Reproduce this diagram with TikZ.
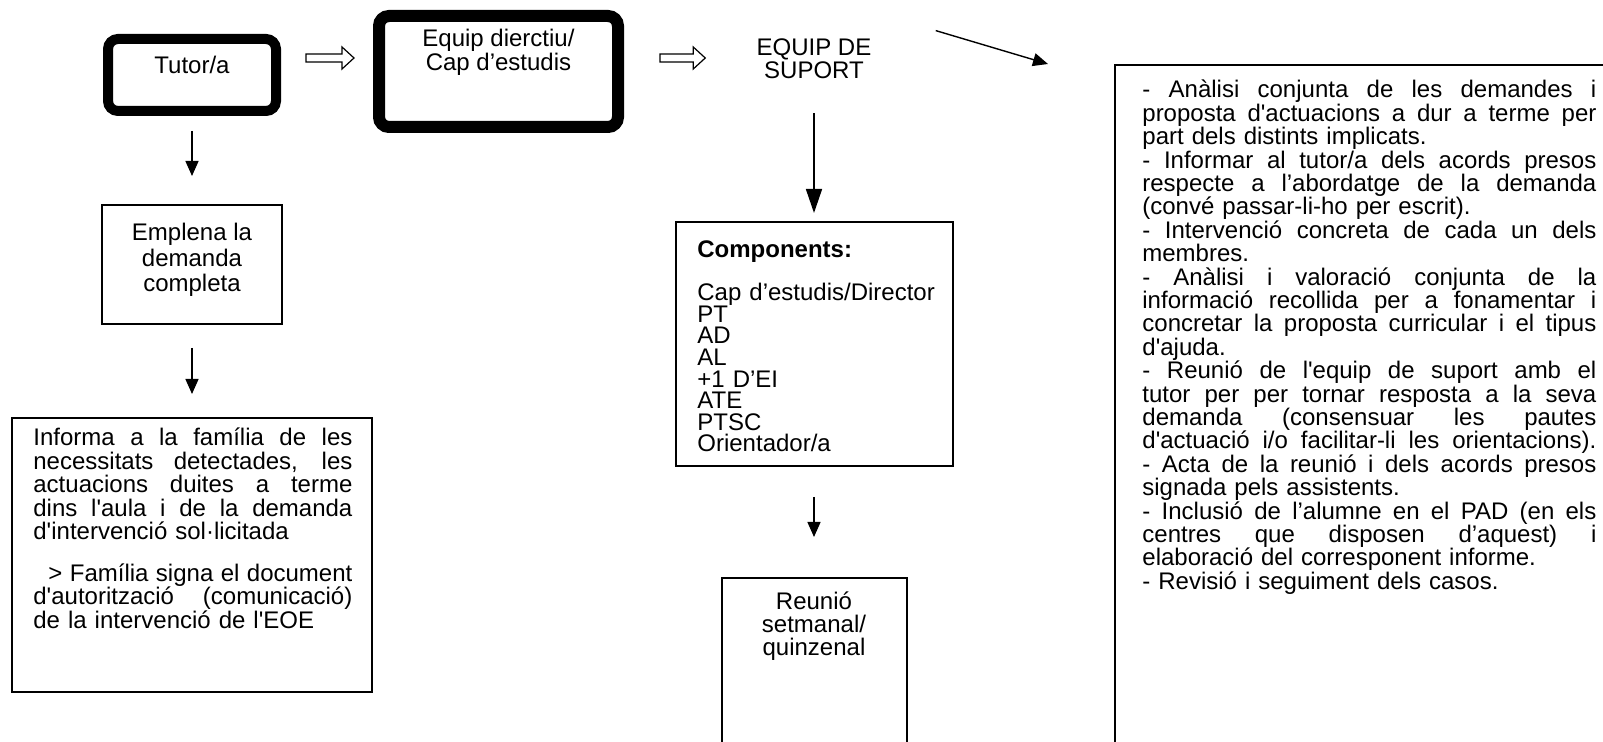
\documentclass[tikz,border=0pt]{standalone}
\usepackage{fontspec}
\setmainfont{Liberation Sans}[Ligatures=TeXOff]
\usepackage{tikz}
\usetikzlibrary{arrows.meta,calc}
\newcommand{\fullline}[2]{\makebox[#1][s]{\spaceskip=0.278em plus 1fil\relax #2}}

\begin{document}
\begin{tikzpicture}[x=0.5pt,y=-0.5pt,
  thickbox/.style={draw,rounded corners=5pt,inner sep=0pt},
  thinbox/.style={draw,line width=1pt,inner sep=0pt},
  txt/.style={inner sep=0pt,font=\fontsize{12pt}{12pt}\selectfont},
  flow/.style={line width=0.7pt,-{Triangle[length=7.5pt,width=6.5pt]}},
  bigflow/.style={line width=0.8pt,-{Triangle[length=12pt,width=8pt]}},
  hollowarrow/.style={draw,line width=0.6pt,
    to path={let \p1=(\tikztostart), \p2=(\tikztotarget) in
      (\x1,\y1+2pt) -- (\x2-6pt,\y1+2pt) -- (\x2-6pt,\y1+5.5pt) -- (\x2,\y1)
      -- (\x2-6pt,\y1-5.5pt) -- (\x2-6pt,\y1-2pt) -- (\x1,\y1-2pt) -- cycle}}]

 \clip (0,0) rectangle (1603,742);

 \node[thickbox,line width=5pt,minimum width=84pt,minimum height=36pt] (tutor) at (192,75) {};
 \node[txt] (tutortxt) at (192,65) {Tutor/a};
 \node[thickbox,line width=6pt,minimum width=119.5pt,minimum height=55.5pt] (equip) at (498.5,71.5) {};
 \node[txt,align=center] (equiptxt) at (498.5,52) {Equip dierctiu/\\Cap d’estudis};
 \node[txt,align=center] (suport) at (814,59) {EQUIP DE\\[-0.5pt]SUPORT};

 \node[thinbox,minimum width=90pt,minimum height=59.5pt] (emplena) at (192,264.5) {};
 \node[txt,align=center,font=\fontsize{12pt}{12.7pt}\selectfont] (emplenatxt) at (192,260) {Emplena la\\demanda\\completa};

 \node[thinbox,minimum width=180pt,minimum height=137pt] (informa) at (192,555) {};
 \node[txt,text width=159.5pt,align=left,anchor=base west,font=\fontsize{12pt}{11.7pt}\selectfont] (informatxt) at (33,446)
   {\fullline{159.5pt}{Informa a la família de les}\\
    \fullline{159.5pt}{necessitats detectades, les}\\
    \fullline{159.5pt}{actuacions duites a terme}\\
    \fullline{159.5pt}{dins l'aula i de la demanda}\\
    d'intervenció sol·licitada\\[9.3pt]
    \fullline{159.5pt}{\hspace*{7.5pt}> Família signa el document}\\
    \fullline{159.5pt}{d'autorització (comunicació)}\\
    de la intervenció de l'EOE};

 \node[thinbox,minimum width=138.5pt,minimum height=122pt] (components) at (814,344) {};
 \node[txt,text width=125pt,align=left,anchor=base west,font=\fontsize{12pt}{10.8pt}\selectfont] (componentstxt) at (697,258)
   {\textbf{Components:}\\[9.2pt]
    Cap d’estudis/Director\\PT\\AD\\AL\\+1 D’EI\\ATE\\PTSC\\Orientador/a};

 \node[thinbox,minimum width=92.5pt,minimum height=120pt,anchor=north] (reunio) at (814,577) {};
 \node[txt,align=center,font=\fontsize{12pt}{11.5pt}\selectfont] (reuniotxt) at (814,626) {Reunió\\setmanal/\\quinzenal};

 \node[thinbox,minimum width=300pt,minimum height=380pt,anchor=north west] (tasques) at (1114,64) {};
 \node[txt,text width=227pt,align=left,anchor=base west,font=\fontsize{12pt}{11.7pt}\selectfont] (tasquestxt) at (1142,98)
   {\fullline{227pt}{- Anàlisi conjunta de les demandes i}\\
    \fullline{227pt}{proposta d'actuacions a dur a terme per}\\
    part dels distints implicats.\\
    \fullline{227pt}{- Informar al tutor/a dels acords presos}\\
    \fullline{227pt}{respecte a l’abordatge de la demanda}\\
    (convé passar-li-ho per escrit).\\
    \fullline{227pt}{- Intervenció concreta de cada un dels}\\
    membres.\\
    \fullline{227pt}{- Anàlisi i valoració conjunta de la}\\
    \fullline{227pt}{informació recollida per a fonamentar i}\\
    \fullline{227pt}{concretar la proposta curricular i el tipus}\\
    d'ajuda.\\
    \fullline{227pt}{- Reunió de l'equip de suport amb el}\\
    \fullline{227pt}{tutor per per tornar resposta a la seva}\\
    \fullline{227pt}{demanda (consensuar les pautes}\\
    \fullline{227pt}{d'actuació i/o facilitar-li les orientacions).}\\
    \fullline{227pt}{- Acta de la reunió i dels acords presos}\\
    signada pels assistents.\\
    \fullline{227pt}{- Inclusió de l’alumne en el PAD (en els}\\
    \fullline{227pt}{centres que disposen d’aquest) i}\\
    elaboració del corresponent informe.\\
    - Revisió i seguiment dels casos.};

 \draw[hollowarrow] ([shift={(12.5pt,8.5pt)}]tutor.east) to ([xshift=-9.5pt]equip.west);
 \draw[hollowarrow] ([shift={(18pt,6.75pt)}]equip.east) to ([xshift=-25.5pt]suport.west);
 \draw[flow] ([shift={(32pt,4pt)}]suport.north east) -- ([xshift=-33pt]tasques.north west);
 \draw[flow] ([yshift=-7.5pt]tutor.south) -- ([yshift=14pt]emplena.north);
 \draw[flow] ([yshift=-11.5pt]emplena.south) -- ([yshift=11.5pt]informa.north);
 \draw[bigflow] ([yshift=-17pt]suport.south) -- ([yshift=4pt]components.north);
 \draw[flow] ([yshift=-15pt]components.south) -- ([yshift=20pt]reunio.north);
\end{tikzpicture}
\end{document}
